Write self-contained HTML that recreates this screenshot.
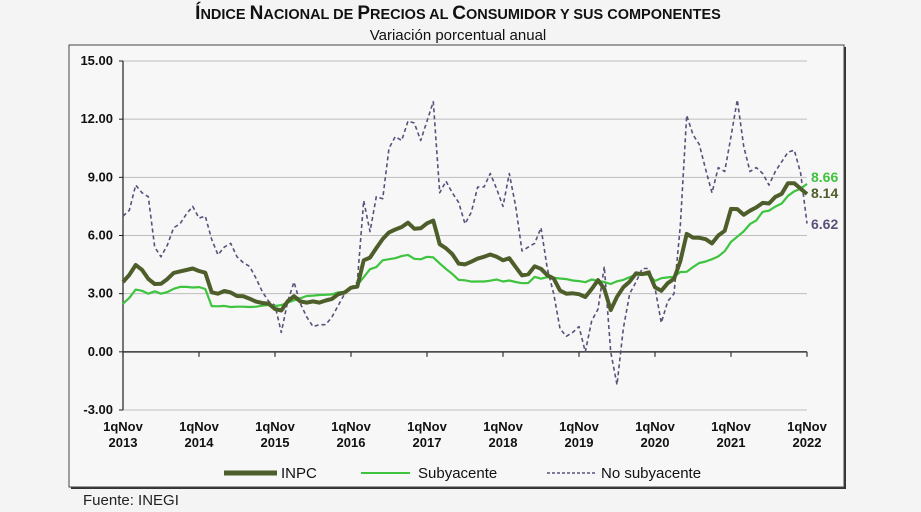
<!DOCTYPE html>
<html><head><meta charset="utf-8"><style>
html,body{margin:0;padding:0;background:#f4f4f4;}
body{width:921px;height:512px;position:relative;overflow:hidden;font-family:"Liberation Sans",sans-serif;}
</style></head><body>
<svg id="chart" width="921" height="512" xmlns="http://www.w3.org/2000/svg" style="position:absolute;left:0;top:0">
<text x="458" y="19" text-anchor="middle" font-weight="bold" font-size="19" fill="#111">Í<tspan font-size="14.5">NDICE </tspan>N<tspan font-size="14.5">ACIONAL DE </tspan>P<tspan font-size="14.5">RECIOS AL </tspan>C<tspan font-size="14.5">ONSUMIDOR Y SUS COMPONENTES</tspan></text>
<text x="458" y="40" text-anchor="middle" font-size="15" fill="#111">Variación porcentual anual</text>
<rect x="71" y="47" width="775" height="442" fill="#333"/>
<rect x="69" y="45" width="775" height="442" fill="#f7f7f7" stroke="#444" stroke-width="1"/>
<g id="grid"></g>
<g id="series"></g>
<g id="labels"></g>
<g>
<line x1="224" y1="473" x2="277" y2="473" stroke="#4e5e2a" stroke-width="5"/>
<text x="281" y="478" font-size="15" fill="#111">INPC</text>
<line x1="361" y1="473" x2="410" y2="473" stroke="#3ec43e" stroke-width="2"/>
<text x="418" y="478" font-size="15" fill="#111">Subyacente</text>
<line x1="547" y1="473" x2="596" y2="473" stroke="#5c4f7a" stroke-width="1.5" stroke-dasharray="3,2"/>
<text x="601" y="478" font-size="15" fill="#111">No subyacente</text>
</g>
<text x="83" y="505" font-size="15" fill="#222">Fuente: INEGI</text>
</svg>
<script>
const yTicks=[15,12,9,6,3,0,-3];
const yearLabels=["2013","2014","2015","2016","2017","2018","2019","2020","2021","2022"];
const inpc=[3.6,3.97,
4.48,4.23,3.76,3.5,3.51,3.75,4.07,4.15,4.22,4.3,4.17,4.08,
3.07,3.0,3.14,3.06,2.88,2.87,2.74,2.59,2.52,2.48,2.21,2.13,
2.61,2.87,2.6,2.54,2.6,2.54,2.65,2.73,2.97,3.06,3.31,3.36,
4.72,4.86,5.35,5.82,6.16,6.31,6.44,6.66,6.35,6.37,6.63,6.77,
5.55,5.34,5.04,4.55,4.51,4.65,4.81,4.9,5.02,4.9,4.72,4.83,
4.37,3.94,4.0,4.41,4.28,3.95,3.78,3.16,3.0,3.02,2.97,2.83,
3.24,3.7,3.25,2.15,2.84,3.33,3.62,4.05,4.01,4.09,3.33,3.15,
3.54,3.76,4.67,6.08,5.89,5.88,5.81,5.59,6.0,6.24,7.37,7.36,
7.07,7.28,7.45,7.68,7.65,7.99,8.15,8.7,8.7,8.41,8.14];
const core=[2.48,2.78,
3.21,3.15,3.0,3.12,3.0,3.08,3.25,3.35,3.35,3.32,3.34,3.24,
2.36,2.35,2.37,2.31,2.33,2.33,2.31,2.33,2.38,2.42,2.36,2.41,
2.54,2.66,2.76,2.88,2.9,2.93,2.94,2.96,3.07,3.1,3.29,3.44,
3.85,4.26,4.37,4.72,4.78,4.83,4.94,5.0,4.8,4.77,4.9,4.87,
4.56,4.27,4.02,3.71,3.69,3.62,3.63,3.63,3.67,3.73,3.63,3.68,
3.6,3.54,3.55,3.87,3.77,3.85,3.82,3.78,3.75,3.68,3.65,3.59,
3.73,3.66,3.6,3.5,3.64,3.71,3.85,3.97,3.99,3.98,3.66,3.8,
3.84,3.87,4.12,4.13,4.37,4.58,4.66,4.78,4.92,5.19,5.67,5.94,
6.21,6.59,6.78,7.22,7.28,7.49,7.65,8.05,8.28,8.42,8.66];
const noncore=[7.0,7.3,8.6,8.2,8.0,5.4,4.9,5.5,6.4,6.6,7.1,7.5,
6.9,7.0,5.8,5.0,5.4,5.6,4.9,4.6,4.4,3.8,3.1,2.6,
2.4,1.0,2.6,3.6,2.5,1.8,1.3,1.4,1.4,1.8,2.4,3.0,
3.3,3.6,7.8,6.2,8.0,7.9,10.5,11.1,10.9,11.9,11.8,10.9,
11.9,12.9,8.2,8.8,8.2,7.7,6.6,7.2,8.5,8.5,9.2,8.4,
7.5,9.2,7.5,5.2,5.4,5.6,6.4,4.3,3.0,1.2,0.8,1.0,
1.3,0.0,1.6,2.2,4.4,0.0,-1.7,1.2,3.0,3.6,4.3,4.3,
3.3,1.5,2.6,3.0,6.5,12.2,11.2,10.7,9.4,8.2,9.5,9.3,
11.1,13.0,10.6,9.3,9.5,9.2,8.6,9.3,9.8,10.3,10.4,9.2,6.62];
const NS="http://www.w3.org/2000/svg";
const X0=123,X1=807,Y15=61,Ym3=410;
const n=inpc.length;
function xs(i){return X0+(X1-X0)*i/(n-1);}
function ys(v){return Y15+(15-v)*(Ym3-Y15)/18;}
function mk(tag,attrs,parent){const e=document.createElementNS(NS,tag);for(const k in attrs)e.setAttribute(k,attrs[k]);parent.appendChild(e);return e;}
const grid=document.getElementById('grid'),ser=document.getElementById('series'),lab=document.getElementById('labels');
yTicks.forEach(v=>{
  const y=ys(v);
  if(v!==0){const g=mk('line',{x1:X0,x2:X1,y1:y,y2:y,stroke:'#bdbdbd','stroke-width':1},grid);
  
  }
  mk('line',{x1:X0-4,x2:X0,y1:y,y2:y,stroke:'#222'},grid);
  const t=mk('text',{x:X0-10,y:y+4,'text-anchor':'end','font-size':13,'font-weight':'bold',fill:'#111'},grid);
  t.textContent=v.toFixed(2);
  
  
});
mk('line',{x1:X0,x2:X0,y1:Y15,y2:Ym3,stroke:'#222','stroke-width':1.2},grid);
const y0=ys(0);
mk('line',{x1:X0,x2:X1,y1:y0,y2:y0,stroke:'#333','stroke-width':1.5},grid);
yearLabels.forEach((yr,k)=>{
  const x=xs(k*12);
  mk('line',{x1:x,x2:x,y1:y0,y2:y0+5,stroke:'#333','stroke-width':1.2},grid);
  const t1=mk('text',{x:x,y:431,'text-anchor':'middle','font-size':13,'font-weight':'bold',fill:'#111'},grid);
  t1.textContent='1qNov';
  
  
  const t2=mk('text',{x:x,y:447,'text-anchor':'middle','font-size':13,'font-weight':'bold',fill:'#111'},grid);
  t2.textContent=yr;
  
  
});
function line(arr,color,w,dash,name){
  const d=arr.map((v,i)=>(i?'L':'M')+xs(i).toFixed(1)+','+ys(v).toFixed(1)).join('');
  const p=mk('path',{d:d,fill:'none',stroke:color,'stroke-width':w,'stroke-linejoin':'round'},ser);
  if(dash)p.setAttribute('stroke-dasharray',dash);
  
  
}
line(noncore,'#5c4f7a',1.6,'4,3','no-subyacente-line');
line(core,'#3ec43e',2.2,null,'subyacente-line');
line(inpc,'#4e5e2a',4,null,'inpc-line');
function endLabel(v,color,y,name){
  const t=mk('text',{x:811,y:y,'font-size':14,'font-weight':'bold',fill:color},lab);
  t.textContent=v.toFixed(2);
  
  
}
endLabel(core[n-1],'#3ec43e',182,'end-label-subyacente');
endLabel(inpc[n-1],'#4e5e2a',198,'end-label-inpc');
endLabel(noncore[n-1],'#5c4f7a',229,'end-label-no-subyacente');
</script>
</body></html>
